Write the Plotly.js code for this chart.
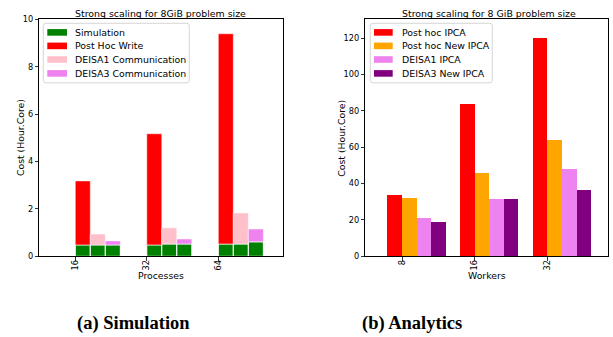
<!DOCTYPE html>
<html>
<head>
<meta charset="utf-8">
<script src="https://cdn.plot.ly/plotly-3.0.1.min.js"></script>
<style>
html,body{margin:0;padding:0;background:#fff;}
#chart{width:613px;height:337px;}
</style>
</head>
<body>
<div id="chart"></div>
<script>
// ---- Data: (a) Simulation ----
var processes = ['16', '32', '64'];
var simPostHoc = [0.48, 0.48, 0.52];     // Simulation part under Post Hoc bar
var simDeisa1 = [0.48, 0.52, 0.52];      // Simulation part under DEISA1 bar
var simDeisa3 = [0.48, 0.52, 0.61];      // Simulation part under DEISA3 bar
var postHocWrite = [2.70, 4.69, 8.87];
var deisa1Comm = [0.46, 0.68, 1.31];
var deisa3Comm = [0.17, 0.21, 0.54];

// ---- Data: (b) Analytics ----
var workers = ['8', '16', '32'];
var postHocIPCA = [33.7, 83.7, 120.0];
var postHocNewIPCA = [32.1, 45.8, 63.9];
var deisa1IPCA = [21.1, 31.5, 48.0];
var deisa3NewIPCA = [18.9, 31.5, 36.5];

var W = 613, H = 337;
function px(x) { return x / W; }
function py(y) { return (H - y) / H; }

var FONT = 'DejaVu Sans, sans-serif';
var idxA = processes.map(function (_, i) { return i; });
var idxB = workers.map(function (_, i) { return i; });
var wA = 0.21, wB = 0.2;

function barA(name, y, base, k, color, showlegend, lw) {
  return {
    type: 'bar', name: name, x: idxA, y: y, base: base,
    width: wA, offset: k * wA, xaxis: 'x', yaxis: 'y',
    marker: { color: color, line: { color: '#ffffff', width: lw } },
    showlegend: false, inLegend: showlegend,
    hoverinfo: 'skip'
  };
}
function barB(name, y, k, color) {
  return {
    type: 'bar', name: name, x: idxB, y: y,
    width: wB, offset: k * wB, xaxis: 'x2', yaxis: 'y2',
    marker: { color: color, line: { width: 0 } },
    showlegend: false, inLegend: true, hoverinfo: 'skip'
  };
}

var tracesA = [
  barA('Simulation', simPostHoc, null, 0, 'green', true, 1),
  barA('Simulation', simDeisa1, null, 1, 'green', false, 1),
  barA('Simulation', simDeisa3, null, 2, 'green', false, 1),
  barA('Post Hoc Write', postHocWrite, simPostHoc, 0, 'red', true, 0.5),
  barA('DEISA1 Communication', deisa1Comm, simDeisa1, 1, 'pink', true, 0.5),
  barA('DEISA3 Communication', deisa3Comm, simDeisa3, 2, 'violet', true, 0.5)
];
var tracesB = [
  barB('Post hoc IPCA', postHocIPCA, -1, 'red'),
  barB('Post hoc New IPCA', postHocNewIPCA, 0, 'orange'),
  barB('DEISA1 IPCA', deisa1IPCA, 1, 'violet'),
  barB('DEISA3 New IPCA', deisa3NewIPCA, 2, 'purple')
];

var tickFont = { family: FONT, size: 8.2, color: '#000' };
function xAxis(domain, range, labels, anchor) {
  return {
    domain: domain, range: range, anchor: anchor,
    tickmode: 'array', tickvals: labels.map(function (_, i) { return i; }), ticktext: labels,
    tickangle: -90, ticks: 'outside', ticklen: 3.5, tickwidth: 0.8, tickcolor: '#000',
    ticklabelstandoff: -4,
    showline: true, linecolor: '#000', linewidth: 1, mirror: true,
    showgrid: false, zeroline: false, tickfont: tickFont, fixedrange: true
  };
}
function yAxis(range, dtick, anchor) {
  return {
    domain: [py(256.3), py(19.3)], range: range, anchor: anchor,
    dtick: dtick, tick0: 0, ticks: 'outside', ticklen: 3.5, tickwidth: 0.8, tickcolor: '#000',
    showline: true, linecolor: '#000', linewidth: 1, mirror: true,
    showgrid: false, zeroline: false, tickfont: tickFont, fixedrange: true
  };
}

function ann(text, x, y, size, extra) {
  var a = {
    text: text, xref: 'paper', yref: 'paper', x: px(x), y: py(y),
    xanchor: 'center', yanchor: 'middle', showarrow: false,
    font: { family: FONT, size: size, color: '#000' }
  };
  for (var k in extra) a[k] = extra[k];
  return a;
}

// Matplotlib-style legend built from the traces' names and colours
var rowY = [32.4, 45.9, 59.5, 73.4];
var shapes = [], annotations = [];
function roundedBox(x0, y0, x1, y1, r) {
  var X0 = px(x0), X1 = px(x1), Y0 = py(y0), Y1 = py(y1), rx = r / W, ry = r / H;
  return 'M' + (X0 + rx) + ',' + Y0 + ' L' + (X1 - rx) + ',' + Y0 +
    ' Q' + X1 + ',' + Y0 + ' ' + X1 + ',' + (Y0 - ry) +
    ' L' + X1 + ',' + (Y1 + ry) + ' Q' + X1 + ',' + Y1 + ' ' + (X1 - rx) + ',' + Y1 +
    ' L' + (X0 + rx) + ',' + Y1 + ' Q' + X0 + ',' + Y1 + ' ' + X0 + ',' + (Y1 + ry) +
    ' L' + X0 + ',' + (Y0 - ry) + ' Q' + X0 + ',' + Y0 + ' ' + (X0 + rx) + ',' + Y0 + ' Z';
}
function addLegend(traces, box, patchX0, patchX1, textX) {
  shapes.push({
    type: 'path', xref: 'paper', yref: 'paper', path: roundedBox(box[0], box[1], box[2], box[3], 2.5),
    fillcolor: 'rgba(255,255,255,0.8)', line: { color: '#cccccc', width: 0.8 }, layer: 'above'
  });
  var items = traces.filter(function (t) { return t.inLegend; });
  items.forEach(function (t, i) {
    var yc = rowY[i];
    shapes.push({
      type: 'rect', xref: 'paper', yref: 'paper', layer: 'above',
      x0: px(patchX0), x1: px(patchX1), y0: py(yc - 3.3), y1: py(yc + 3.3),
      fillcolor: t.marker.color, line: { width: 0 }
    });
    annotations.push({
      text: t.name, xref: 'paper', yref: 'paper', x: px(textX), y: py(yc),
      xanchor: 'left', yanchor: 'middle', showarrow: false,
      font: { family: FONT, size: 9.4, color: '#000' }
    });
  });
}
addLegend(tracesA, [43.3, 23.3, 189.3, 82.8], 47.3, 67, 73);
addLegend(tracesB, [370.3, 23.3, 492.3, 82.8], 374, 392.7, 399.7);

annotations = annotations.concat([
  ann('Strong scaling for 8GiB problem size', 160.5, 14, 9.4),
  ann('Strong scaling for 8 GiB problem size', 489, 14, 9.4),
  ann('Processes', 160.7, 275.5, 9.3),
  ann('Workers', 487, 275.5, 9.3),
  ann('Cost (Hour.Core)', 20, 138, 9.3, { textangle: -90 }),
  ann('Cost (Hour.Core)', 340.7, 138, 9.3, { textangle: -90 }),
  ann('<b>(a) Simulation</b>', 133.5, 323, 18.5, { font: { family: 'Liberation Serif, serif', size: 18.5, color: '#000' } }),
  ann('<b>(b) Analytics</b>', 411.7, 323, 18.5, { font: { family: 'Liberation Serif, serif', size: 18.5, color: '#000' } })
]);

var layout = {
  width: W, height: H,
  margin: { l: 0, r: 0, t: 0, b: 0 },
  paper_bgcolor: '#fff', plot_bgcolor: '#fff',
  barmode: 'overlay', bargap: 0,
  showlegend: false,
  xaxis: xAxis([px(39.3), px(283.3)], [-0.503, 2.909], processes, 'y'),
  yaxis: yAxis([0, 10], 2, 'x'),
  xaxis2: xAxis([px(365.3), px(607.7)], [-0.505, 2.829], workers, 'y2'),
  yaxis2: yAxis([0, 130.3], 20, 'x2'),
  shapes: shapes,
  annotations: annotations
};

var data = tracesA.concat(tracesB).map(function (t) {
  var c = {}; for (var k in t) if (k !== 'inLegend') c[k] = t[k]; return c;
});
Plotly.newPlot('chart', data, layout, { displayModeBar: false, staticPlot: true });
</script>
</body>
</html>
